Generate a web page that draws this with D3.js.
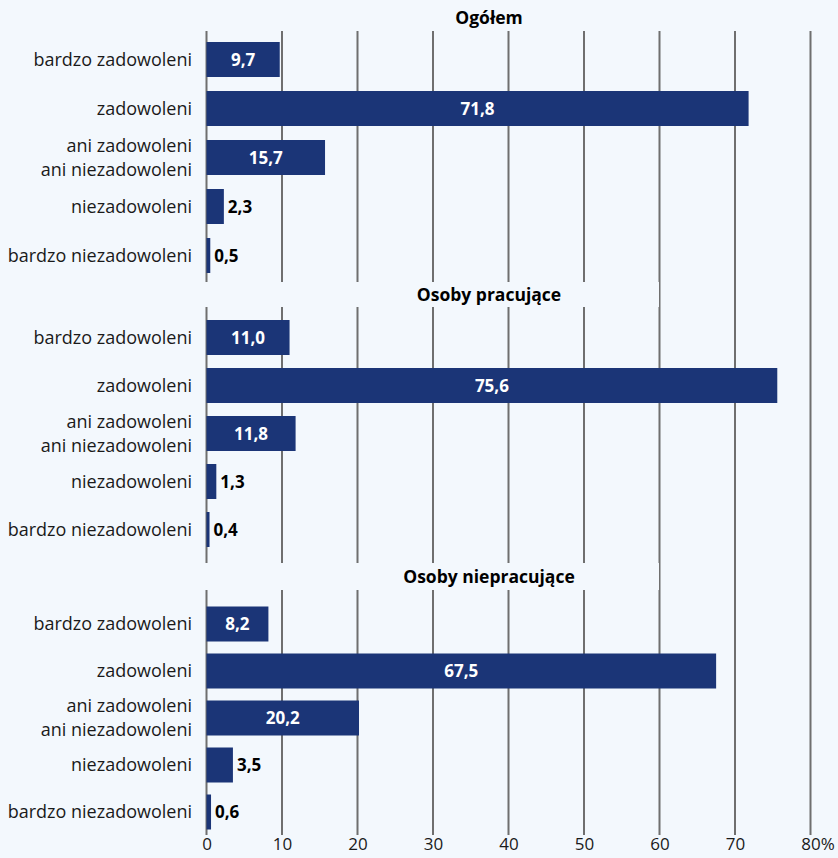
<!DOCTYPE html>
<html>
<head>
<meta charset="utf-8">
<script src="https://cdn.jsdelivr.net/npm/d3@7"></script>
<style>
  html, body { margin: 0; padding: 0; background: #f3f8fd; }
  svg { display: block; font-family: "Open Sans", "Noto Sans", sans-serif; }
</style>
</head>
<body>
<svg id="chart" width="838" height="858"></svg>
<script>
// Satisfaction categories (top to bottom within each panel)
const categories = [
  "bardzo zadowoleni",
  "zadowoleni",
  "ani zadowoleni ani niezadowoleni",
  "niezadowoleni",
  "bardzo niezadowoleni"
];
// Panel titles
const groups = ["Ogółem", "Osoby pracujące", "Osoby niepracujące"];
// Shares in % per panel
const ogolem = [9.7, 71.8, 15.7, 2.3, 0.5];
const pracujace = [11.0, 75.6, 11.8, 1.3, 0.4];
const niepracujace = [8.2, 67.5, 20.2, 3.5, 0.6];
// X axis ticks
const ticks = [0, 10, 20, 30, 40, 50, 60, 70, 80];

const seriesByGroup = [ogolem, pracujace, niepracujace];

const W = 838, H = 858;
const bg = "#f3f8fd";
const barColor = "#1b3577";
const gridColor = "#6f6f6f";
const textColor = "#1a1a1a";

const svg = d3.select("#chart");
svg.append("rect").attr("width", W).attr("height", H).attr("fill", bg);

const x = d3.scaleLinear().domain([0, 80]).range([206.5, 810.5]);

// Vertical layout of each panel: title position and range of bar centres
const panels = [
  { titleY: 18,  boxTop: 0,   boxBottom: 31,  rows: [59.5, 255.5] },
  { titleY: 295, boxTop: 282, boxBottom: 307, rows: [337.5, 529.5] },
  { titleY: 577, boxTop: 563, boxBottom: 590, rows: [624, 812] }
];
const gridTop = 31, gridBottom = 835;
const barH = 35;

// Grid lines
svg.append("g")
  .selectAll("line")
  .data(ticks)
  .join("line")
  .attr("x1", d => x(d)).attr("x2", d => x(d))
  .attr("y1", gridTop).attr("y2", gridBottom)
  .attr("stroke", gridColor).attr("stroke-width", 2);

// Axis tick labels
const axisG = svg.append("g")
  .attr("transform", `translate(0,${gridBottom})`)
  .call(d3.axisBottom(x).tickValues(ticks).tickSize(0).tickPadding(4).tickFormat(d => d));
axisG.select(".domain").remove();
axisG.selectAll("text")
  .attr("font-family", "Open Sans, sans-serif")
  .attr("font-size", 17)
  .attr("fill", textColor)
  .attr("dy", "0.62em");
// percent sign after the last tick
axisG.selectAll(".tick").filter(d => d === 80).each(function() {
  const t = d3.select(this).select("text");
  const w = t.node().getComputedTextLength();
  d3.select(this).append("text")
    .attr("x", w / 2)
    .attr("y", 4)
    .attr("dy", "0.62em")
    .attr("text-anchor", "start")
    .attr("font-family", "Open Sans, sans-serif")
    .attr("font-size", 17)
    .attr("fill", textColor)
    .text("%");
});

groups.forEach((g, gi) => {
  const p = panels[gi];
  const values = seriesByGroup[gi];
  const y = d3.scalePoint().domain(categories).range(p.rows);

  // title band masking the grid lines
  if (gi > 0) {
    svg.append("rect")
      .attr("x", 0).attr("y", p.boxTop)
      .attr("width", 659).attr("height", p.boxBottom - p.boxTop)
      .attr("fill", bg);
  }
  svg.append("text")
    .attr("x", 489).attr("y", p.titleY)
    .attr("dy", "0.35em")
    .attr("text-anchor", "middle")
    .attr("font-size", 17.5)
    .attr("font-weight", "bold")
    .attr("fill", "#000")
    .text(g);

  const pg = svg.append("g");

  // category labels
  pg.selectAll("text.cat")
    .data(categories)
    .join("text")
    .attr("class", "cat")
    .attr("x", 192)
    .attr("y", d => y(d))
    .attr("text-anchor", "end")
    .attr("font-size", 18)
    .attr("fill", textColor)
    .each(function(d) {
      const el = d3.select(this);
      const lines = d === categories[2] ? ["ani zadowoleni", "ani niezadowoleni"] : [d];
      const lh = 1.33;
      const off = -(lines.length - 1) * lh / 2;
      lines.forEach((ln, i) => {
        el.append("tspan")
          .attr("x", 192)
          .attr("dy", i === 0 ? `${off + 0.35}em` : `${lh}em`)
          .text(ln);
      });
    });

  // bars
  pg.selectAll("rect.bar")
    .data(values)
    .join("rect")
    .attr("class", "bar")
    .attr("x", x(0))
    .attr("y", (d, i) => y(categories[i]) - barH / 2)
    .attr("width", d => x(d) - x(0))
    .attr("height", barH)
    .attr("fill", barColor);

  // value labels
  const fmt = v => v.toFixed(1).replace(".", ",");
  pg.selectAll("text.val")
    .data(values)
    .join("text")
    .attr("class", "val")
    .attr("x", d => d >= 5 ? (x(0) + x(d)) / 2 : x(d) + 4)
    .attr("y", (d, i) => y(categories[i]))
    .attr("dy", "0.36em")
    .attr("text-anchor", d => d >= 5 ? "middle" : "start")
    .attr("font-size", 17)
    .attr("font-weight", "bold")
    .attr("fill", d => d >= 5 ? "#ffffff" : "#000")
    .text(fmt);
});
</script>
</body>
</html>
